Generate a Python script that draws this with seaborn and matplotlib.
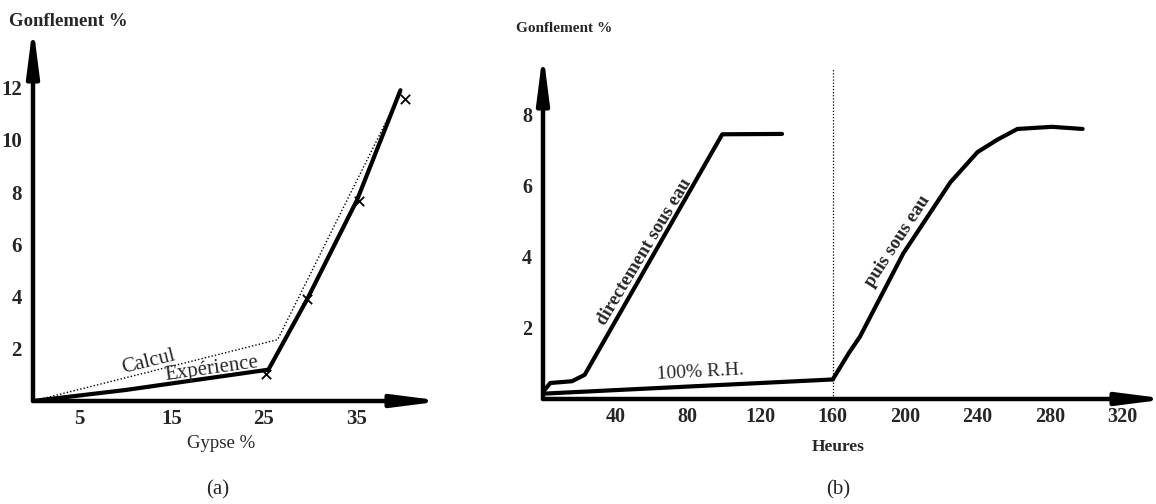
import matplotlib
matplotlib.use("Agg")
import matplotlib.pyplot as plt
from matplotlib.patches import FancyArrowPatch
import seaborn as sns
import pandas as pd

# ---------------- data (a) ----------------
gypse_exp = [0, 10, 25.5, 29.7, 35.1, 39.8]
gonf_exp = [0, 0.42, 1.2, 3.9, 7.7, 11.9]
gypse_marks = [25.2, 29.7, 35.3, 40.3]
gonf_marks = [1.05, 3.9, 7.65, 11.55]
gypse_calc = [0, 26.5, 39.8]
gonf_calc = [0, 2.35, 11.8]
a_major_ticks = [5, 15, 25, 35]
a_minor_ticks = [10, 20, 30, 40]
a_yticks = [2, 4, 6, 8, 10, 12]

# ---------------- data (b) ----------------
rh_h = [0, 160]
rh_g = [0.15, 0.55]
direct_h = [0, 4, 16, 23, 99, 132]
direct_g = [0.2, 0.45, 0.5, 0.68, 7.45, 7.46]
puis_h = [160, 169, 175, 199, 225, 240, 251, 262, 281, 298]
puis_g = [0.55, 1.3, 1.75, 4.1, 6.1, 6.95, 7.3, 7.6, 7.66, 7.6]
b_xticks = [40, 80, 120, 160, 200, 240, 280, 320]
b_yticks = [2, 4, 6, 8]
switch_h = 160

sns.set_theme(style="white")
plt.rcParams["font.family"] = ["Liberation Serif", "DejaVu Serif"]

W, H = 1156, 504
fig = plt.figure(figsize=(W / 100, H / 100), dpi=100)

def axes_px(l, r, b, t):
    ax = fig.add_axes([l / W, 1 - b / H, (r - l) / W, (b - t) / H])
    ax._px_size = (r - l, b - t)
    return ax

def draw_arrows(ax, labelsize, ext_px=13):
    for s in ax.spines.values():
        s.set_visible(False)
    wpx, hpx = ax._px_size
    for end in [(1 + ext_px / wpx, 0), (0, 1 + ext_px / hpx)]:
        arr = FancyArrowPatch(posA=(0, 0), posB=end, transform=ax.transAxes,
                              arrowstyle="-|>,head_length=1.4,head_width=0.18",
                              mutation_scale=20, lw=3.2, color="black",
                              shrinkA=0, shrinkB=0, clip_on=False, zorder=5)
        ax.add_patch(arr)
    ax.tick_params(axis="both", which="both", direction="in", length=4, width=1,
                   color="black", labelsize=labelsize)
    ax.tick_params(axis="y", pad=8)
    ax.tick_params(axis="x", pad=6)
    for lab in ax.get_xticklabels() + ax.get_yticklabels():
        lab.set_fontweight("bold")

# ---------------- panel (a) ----------------
axa = axes_px(33, 430, 401, 38)
axa.set_facecolor("white")
df_exp = pd.DataFrame({"x": gypse_exp, "y": gonf_exp})
df_calc = pd.DataFrame({"x": gypse_calc, "y": gonf_calc})
sns.lineplot(data=df_calc, x="x", y="y", ax=axa, color="black", lw=1.0,
             linestyle=(0, (1, 1.5)), sort=False)
sns.lineplot(data=df_exp, x="x", y="y", ax=axa, color="black", lw=3.0, sort=False)
sns.scatterplot(x=gypse_marks, y=gonf_marks, ax=axa, marker="x", s=45,
                color="black", linewidth=1.3)
axa.set_xlim(0, 43)
axa.set_ylim(0, 13.9)
axa.set_xticks(a_major_ticks)
axa.set_xticks(a_minor_ticks, minor=True)
axa.set_yticks(a_yticks)
axa.set_xticklabels([str(v) for v in a_major_ticks])
axa.set_yticklabels([str(v) for v in a_yticks])
axa.set_xlabel("")
axa.set_ylabel("")
draw_arrows(axa, 15)
axa.text(12.5, 1.5, "Calcul", rotation=14, ha="center", va="center", fontsize=15)
axa.text(19.4, 1.22, "Expérience", rotation=8, ha="center", va="center", fontsize=15)

# ---------------- panel (b) ----------------
axb = axes_px(543, 1155, 399, 65)
axb.set_facecolor("white")
sns.lineplot(x=rh_h, y=rh_g, ax=axb, color="black", lw=3.0)
sns.lineplot(x=direct_h, y=direct_g, ax=axb, color="black", lw=3.0)
sns.lineplot(x=puis_h, y=puis_g, ax=axb, color="black", lw=3.0)
axb.axvline(switch_h, ymin=0, ymax=0.99, color="black", lw=0.9,
            linestyle=(0, (1, 1.5)))
axb.set_xlim(0, 338)
axb.set_ylim(0, 9.4)
axb.set_xticks(b_xticks)
axb.set_yticks(b_yticks)
axb.set_xticklabels([str(v) for v in b_xticks])
axb.set_yticklabels([str(v) for v in b_yticks])
axb.set_xlabel("")
axb.set_ylabel("")
draw_arrows(axb, 14.5)
axb.text(56, 4.15, "directement sous eau", rotation=59, ha="center", va="center",
         fontsize=13.5, fontweight="semibold")
axb.text(196, 4.45, "puis sous eau", rotation=57, ha="center", va="center",
         fontsize=13.5, fontweight="semibold")
axb.text(87, 0.75, "100% R.H.", rotation=3, ha="center", va="center", fontsize=14)

# ---------------- figure texts ----------------
def ftext(px, py, s, **kw):
    fig.text(px / W, 1 - py / H, s, **kw)

ftext(9, 22, "Gonflement %", ha="left", va="center", fontsize=13.5, fontweight="bold")
ftext(516, 28, "Gonflement %", ha="left", va="center", fontsize=11, fontweight="bold")
ftext(221, 443, "Gypse %", ha="center", va="center", fontsize=13.5)
ftext(838, 447, "Heures", ha="center", va="center", fontsize=12.5, fontweight="bold")
ftext(218, 490, "(a)", ha="center", va="center", fontsize=15)
ftext(838, 490, "(b)", ha="center", va="center", fontsize=15)

fig.savefig("out.png", dpi=100, facecolor="white")
